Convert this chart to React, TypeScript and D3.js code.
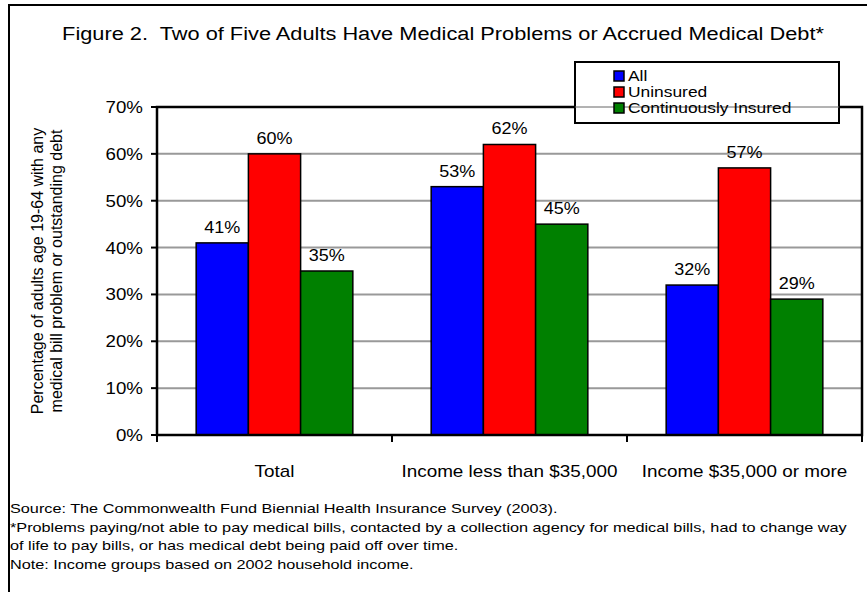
import React from "react";
import * as d3 from "d3";

const categories = ["Total", "Income less than $35,000", "Income $35,000 or more"];
const seriesNames = ["All", "Uninsured", "Continuously Insured"];
const seriesColors = ["#0000FF", "#FF0000", "#008000"];
const valuesAll = [41, 53, 32];
const valuesUninsured = [60, 62, 57];
const valuesContinuous = [35, 45, 29];
const yTicks = [0, 10, 20, 30, 40, 50, 60, 70];
const titleText = "Figure 2.  Two of Five Adults Have Medical Problems or Accrued Medical Debt*";
const yLabelLines = ["Percentage of adults age 19-64 with any", "medical bill problem or outstanding debt"];
const notes = [
  "Source: The Commonwealth Fund Biennial Health Insurance Survey (2003).",
  "*Problems paying/not able to pay medical bills, contacted by a collection agency for medical bills, had to change way",
  "of life to pay bills, or has medical debt being paid off over time.",
  "Note: Income groups based on 2002 household income.",
];

const W = 867;
const H = 592;
const plot = { left: 157, right: 862, top: 107, bottom: 435 };
const FONT = "Liberation Sans, Arial, sans-serif";

type STProps = {
  x: number;
  y: number;
  sx: number;
  size: number;
  anchor?: "start" | "middle" | "end";
  children: React.ReactNode;
};

function SText({ x, y, sx, size, anchor = "start", children }: STProps) {
  return (
    <text
      transform={`translate(${x},${y}) scale(${sx},1)`}
      textAnchor={anchor}
      fontSize={size}
      fill="#000"
      style={{ whiteSpace: "pre" }}
    >
      {children}
    </text>
  );
}

export default function App() {
  const series = [valuesAll, valuesUninsured, valuesContinuous];
  const x = d3.scaleBand<string>().domain(categories).range([plot.left, plot.right]).padding(0);
  const y = d3.scaleLinear().domain([0, 70]).range([plot.bottom, plot.top]);
  const bw = x.bandwidth();
  // gap width 150% of bar width
  const inner = d3
    .scaleBand<string>()
    .domain(seriesNames)
    .range([0, bw])
    .paddingInner(0)
    .paddingOuter(0.75);
  const barW = inner.bandwidth();

  const boundaries = [...categories.map((c) => x(c) as number), plot.right];

  return (
    <div style={{ position: "absolute", left: 0, top: 0 }}>
      <svg width={W} height={H} style={{ display: "block", fontFamily: FONT }}>
        <rect x={0} y={0} width={W} height={H} fill="#fff" />
        {/* outer frame */}
        <path d={`M9,${H} L9,5 L${W},5`} fill="none" stroke="#000" strokeWidth={2} />
        {/* title */}
        <SText x={443} y={40} sx={1.21} size={18} anchor="middle">
          {titleText}
        </SText>
        {/* gridlines */}
        {yTicks
          .filter((t) => t > 0 && t < 70)
          .map((t) => (
            <line key={t} x1={plot.left} x2={plot.right} y1={y(t)} y2={y(t)} stroke="#999" strokeWidth={2} />
          ))}
        {/* bars */}
        {categories.map((c, ci) =>
          seriesNames.map((s, si) => {
            const v = series[si][ci];
            const bx = (x(c) as number) + (inner(s) as number);
            return (
              <g key={c + s}>
                <rect
                  x={bx}
                  y={y(v)}
                  width={barW}
                  height={y(0) - y(v)}
                  fill={seriesColors[si]}
                  stroke="#000"
                  strokeWidth={1.5}
                />
                <SText x={bx + barW / 2} y={y(v) - 10} sx={1.06} size={17} anchor="middle">
                  {v}%
                </SText>
              </g>
            );
          })
        )}
        {/* plot frame */}
        <rect
          x={plot.left}
          y={plot.top}
          width={plot.right - plot.left}
          height={plot.bottom - plot.top}
          fill="none"
          stroke="#000"
          strokeWidth={2.5}
        />
        {/* y ticks */}
        {yTicks.map((t) => (
          <g key={t}>
            <line x1={plot.left - 6} x2={plot.left} y1={y(t)} y2={y(t)} stroke="#000" strokeWidth={2} />
            <SText x={143} y={y(t) + 6} sx={1.1} size={17} anchor="end">
              {t}%
            </SText>
          </g>
        ))}
        {/* x ticks */}
        {boundaries.map((b, i) => (
          <line key={i} x1={b} x2={b} y1={plot.bottom} y2={plot.bottom + 7} stroke="#000" strokeWidth={2} />
        ))}
        {categories.map((c) => (
          <SText key={c} x={(x(c) as number) + bw / 2} y={477} sx={1.18} size={16} anchor="middle">
            {c}
          </SText>
        ))}
        {/* y axis label */}
        <g transform={`translate(0, ${(plot.top + plot.bottom) / 2}) rotate(-90)`}>
          {yLabelLines.map((l, i) => (
            <text key={i} x={0} y={43 + i * 19} textAnchor="middle" fontSize={16} fill="#000">
              {l}
            </text>
          ))}
        </g>
        {/* legend */}
        <rect x={575} y={62} width={264} height={61} fill="#fff" stroke="#000" strokeWidth={2} />
        <line x1={575} x2={839} y1={plot.top} y2={plot.top} stroke="#666" strokeWidth={1} />
        {seriesNames.map((s, i) => (
          <g key={s}>
            <rect x={614} y={71 + i * 16} width={10} height={10} fill={seriesColors[i]} stroke="#000" strokeWidth={1.5} />
            <SText x={628} y={81 + i * 16} sx={1.2} size={14.5}>
              {s}
            </SText>
          </g>
        ))}
        {/* notes */}
        {notes.map((n, i) => (
          <SText key={i} x={10} y={513 + i * 18.5} sx={1.25} size={13}>
            {n}
          </SText>
        ))}
      </svg>
    </div>
  );
}
